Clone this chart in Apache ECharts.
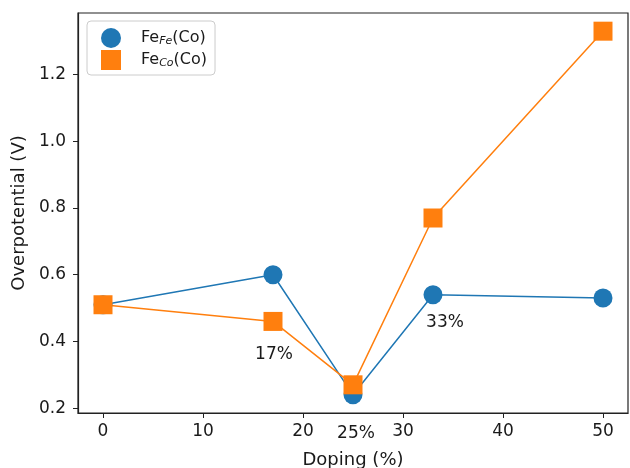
<!DOCTYPE html>
<html>
<head>
<meta charset="utf-8">
<script src="https://cdn.jsdelivr.net/npm/echarts@6/dist/echarts.min.js"></script>
<style>html,body{margin:0;padding:0;background:#fff}#c{width:630px;height:468px}</style>
</head>
<body>
<div id="c"></div>
<script>
const doping = [0, 17, 25, 33, 50];
const feFe = [0.51, 0.60, 0.24, 0.54, 0.53];
const feCo = [0.51, 0.46, 0.27, 0.77, 1.33];
const xTicks = [0, 10, 20, 30, 40, 50];
const yTicks = [0.2, 0.4, 0.6, 0.8, 1.0, 1.2];
const annotations = [
  {text: '17%', x: 17.1, y: 0.36},
  {text: '25%', x: 25.3, y: 0.125},
  {text: '33%', x: 34.2, y: 0.458}
];

const font = 'DejaVu Sans';
const ink = '#1a1a1a';
const chart = echarts.init(document.getElementById('c'));
chart.setOption({
  animation: false,
  textStyle: {fontFamily: font},
  grid: {left: 78, right: 2, top: 13, bottom: 55, outerBoundsMode: 'none', containLabel: false,
    show: true, borderColor: '#222', borderWidth: 1.2},
  legend: {
    left: 87, top: 21, orient: 'vertical',
    padding: [7, 8, 5, 14],
    borderColor: '#ccc', borderWidth: 1, borderRadius: 4,
    itemWidth: 20, itemHeight: 20, itemGap: 2,
    backgroundColor: '#fff',
    data: [{name: 'FeFe', icon: 'circle'}, {name: 'FeCo', icon: 'rect'}],
    formatter: function (n) { return n === 'FeFe' ? '{a|Fe}{s|Fe}{a|(Co)}' : '{a|Fe}{s|Co}{a|(Co)}'; },
    textStyle: {
      padding: [0, 0, 0, 15],
      rich: {
        a: {fontSize: 16, fontFamily: font, color: ink},
        s: {fontSize: 11, fontStyle: 'italic', fontFamily: font, color: ink, padding: [7, 0, 0, 0]}
      }
    }
  },
  xAxis: {
    type: 'value', min: -2.5, max: 52.5,
    name: 'Doping (%)', nameLocation: 'middle', nameGap: 38,
    nameTextStyle: {fontSize: 18, color: ink, fontFamily: font},
    axisLine: {show: true, onZero: false, lineStyle: {color: '#222', width: 1.2}},
    axisTick: {show: true, length: 5, customValues: xTicks, lineStyle: {color: '#222'}},
    axisLabel: {customValues: xTicks, fontSize: 17, color: ink, margin: 10, fontFamily: font},
    splitLine: {show: false}
  },
  yAxis: {
    type: 'value', min: 0.1855, max: 1.3845,
    name: 'Overpotential (V)', nameLocation: 'middle', nameGap: 49,
    nameTextStyle: {fontSize: 18, color: ink, fontFamily: font},
    axisLine: {show: true, onZero: false, lineStyle: {color: '#222', width: 1.2}},
    axisTick: {show: true, length: 5, customValues: yTicks, lineStyle: {color: '#222'}},
    axisLabel: {customValues: yTicks, fontSize: 17, color: ink, margin: 12, fontFamily: font,
      formatter: v => v.toFixed(1)},
    splitLine: {show: false}
  },
  series: [
    {
      name: 'FeFe', type: 'line', data: doping.map((d, i) => [d, feFe[i]]),
      symbol: 'circle', symbolSize: 19, color: '#1f77b4',
      lineStyle: {width: 1.5, color: '#1f77b4'}, itemStyle: {color: '#1f77b4'}
    },
    {
      name: 'FeCo', type: 'line', data: doping.map((d, i) => [d, feCo[i]]),
      symbol: 'rect', symbolSize: 19, color: '#ff7f0e',
      lineStyle: {width: 1.5, color: '#ff7f0e'}, itemStyle: {color: '#ff7f0e'}
    },
    {
      name: 'labels', type: 'scatter', symbolSize: 1, silent: true, clip: false, z: 5,
      itemStyle: {color: 'rgba(0,0,0,0)', opacity: 1},
      data: annotations.map(a => ({value: [a.x, a.y], name: a.text})),
      label: {show: true, position: 'inside', formatter: p => p.name, fontSize: 17, color: ink,
        opacity: 1, textBorderWidth: 0, fontFamily: font}
    }
  ]
});
</script>
</body>
</html>
